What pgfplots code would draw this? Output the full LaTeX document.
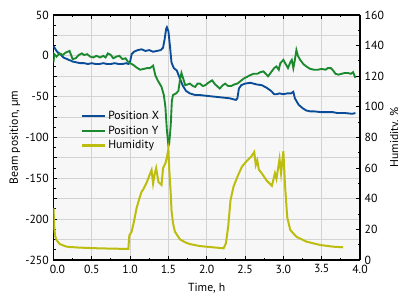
\documentclass[border=0pt]{standalone}
\usepackage{fontspec}
\setmainfont{PT Sans}
\usepackage{pgfplots}
\pgfplotsset{compat=1.18}
\definecolor{cX}{HTML}{0A4C97}
\definecolor{cY}{HTML}{1B8A2F}
\definecolor{cH}{HTML}{BDBD0F}
\definecolor{bg}{HTML}{F7F7F7}
\definecolor{gridc}{HTML}{D3D3D3}
\begin{document}
\begin{tikzpicture}
\pgfplotsset{
  every axis/.append style={
    scale only axis, width=229.9pt, height=183.75pt,
    xmin=0, xmax=4,
    font=\fontsize{8.8}{10}\selectfont,
    /pgf/number format/assume math mode=true,
    axis line style={line width=0.9pt},
    major tick length=3pt, minor tick length=1.8pt,
    every tick/.style={black, line width=0.7pt},
  }
}
\begin{axis}[
  ymin=-250, ymax=50,
  axis background/.style={fill=bg},
  xtick={0,0.5,...,4},
  xticklabels={\hspace{6pt}0.0,0.5,1.0,1.5,2.0,2.5,3.0,3.5,4.0\hspace{12pt}},
  minor x tick num=1,
  ytick={-250,-225,...,50},
  yticklabels={-250,,-200,,-150,,-100,,-50,,0,,50},
  minor y tick num=1,
  grid=major,
  major grid style={gridc, line width=0.75pt},
  xlabel={Time, h},
  ylabel={Beam position, µm},
  xlabel style={at={([yshift=-14pt]axis description cs:0.5,0)}, anchor=north},
  ylabel style={at={([xshift=-29pt]axis description cs:0,0.5)}, anchor=center},
  axis y line*=left,
  legend style={draw=none, fill=none, at={(axis description cs:0.075,0.63)}, anchor=north west,
    font=\fontsize{8.8}{10}\selectfont, row sep=-0.8pt},
  legend cell align=left,
]
\addplot[cX, line width=1.4pt] coordinates {
(0.00,12)(0.02,9)(0.04,6)(0.07,3)(0.10,1)(0.13,-2)(0.15,-3)(0.18,-4)(0.20,-5)(0.23,-6)(0.25,-7)(0.30,-8)(0.35,-9)(0.40,-9)(0.45,-10)(0.50,-9)(0.55,-10)(0.60,-10)(0.65,-9)(0.70,-10)(0.75,-10)(0.80,-9)(0.85,-10)(0.90,-10)(0.95,-9)(0.98,-10)(1.00,-7)(1.02,2)(1.05,5)(1.10,7)(1.15,8)(1.20,6)(1.25,7)(1.30,5)(1.35,6)(1.40,7)(1.43,10)(1.45,20)(1.47,33)(1.48,35)(1.50,30)(1.52,12)(1.54,-8)(1.57,-15)(1.61,-18)(1.65,-28)(1.69,-37)(1.73,-43)(1.78,-46)(1.85,-48)(1.91,-48)(2.00,-49)(2.10,-50)(2.20,-51)(2.30,-52)(2.38,-54)(2.40,-52)(2.42,-40)(2.45,-36)(2.50,-34)(2.57,-33)(2.65,-35)(2.72,-36)(2.78,-39)(2.84,-43)(2.88,-47)(2.91,-47)(2.95,-46)(3.00,-47)(3.05,-46)(3.10,-46)(3.13,-44)(3.15,-52)(3.20,-60)(3.25,-64)(3.30,-67)(3.35,-68)(3.40,-68)(3.50,-69)(3.60,-69)(3.65,-69)(3.70,-70)(3.80,-70)(3.90,-71)(3.94,-70)
};
\addlegendentry{Position X}
\addplot[cY, line width=1.4pt] coordinates {
(0.00,-8)(0.01,2)(0.04,-1)(0.08,3)(0.12,1)(0.16,4)(0.21,6)(0.25,-4)(0.29,-3)(0.33,1)(0.37,3)(0.40,1)(0.44,2)(0.48,-1)(0.52,-2)(0.56,0)(0.61,-2)(0.65,0)(0.68,-2)(0.71,3)(0.75,1)(0.78,-3)(0.82,-1)(0.86,0)(0.90,-4)(0.94,-3)(0.97,-7)(1.00,-9)(1.04,-11)(1.08,-14)(1.13,-17)(1.18,-16)(1.22,-15)(1.26,-15)(1.30,-12)(1.33,-24)(1.36,-30)(1.41,-38)(1.44,-48)(1.46,-62)(1.48,-91)(1.50,-110)(1.51,-108)(1.53,-85)(1.545,-55)(1.56,-48)(1.60,-46)(1.63,-43)(1.65,-30)(1.67,-21)(1.70,-30)(1.72,-36)(1.75,-35)(1.78,-34)(1.82,-37)(1.85,-38)(1.88,-34)(1.91,-34)(1.95,-37)(1.98,-36)(2.02,-33)(2.07,-30)(2.11,-35)(2.17,-40)(2.21,-36)(2.24,-34)(2.28,-37)(2.32,-37)(2.36,-35)(2.40,-34)(2.44,-31)(2.48,-28)(2.52,-26)(2.56,-24)(2.61,-22)(2.66,-22)(2.70,-20)(2.74,-19)(2.77,-22)(2.80,-25)(2.84,-20)(2.88,-15)(2.91,-13)(2.94,-17)(2.96,-9)(2.98,-7)(3.00,-5)(3.03,-10)(3.06,-15)(3.09,-8)(3.11,-5)(3.13,-15)(3.15,-5)(3.17,7)(3.19,0)(3.22,-5)(3.26,-10)(3.30,-13)(3.35,-16)(3.40,-17)(3.45,-17)(3.50,-16)(3.55,-17)(3.58,-15)(3.62,-15)(3.65,-18)(3.68,-22)(3.72,-23)(3.76,-22)(3.80,-21)(3.84,-21)(3.88,-22)(3.91,-20)(3.94,-27)
};
\addlegendentry{Position Y}
\addlegendimage{color=cH, line width=1.6pt}
\addlegendentry{Humidity}
\end{axis}
\begin{axis}[
  ymin=0, ymax=160,
  axis x line=none,
  axis y line*=right,
  ytick={0,20,...,160},
  minor y tick num=1,
  ylabel={Humidity, \%},
  ylabel style={at={([xshift=19pt]axis description cs:1,0.5)}, anchor=north},
]
\addplot[cH, line width=1.5pt] coordinates {
(0.00,34)(0.01,22)(0.02,16)(0.04,13)(0.08,10.5)(0.17,8.7)(0.30,8.2)(0.39,8)(0.60,7.6)(0.80,7.4)(0.977,7.2)(0.99,16)(1.02,18.5)(1.05,25)(1.085,34)(1.12,40)(1.15,44.6)(1.17,46)(1.20,49)(1.22,51)(1.25,55)(1.28,58.8)(1.30,50)(1.32,56)(1.34,60)(1.37,51)(1.41,49)(1.43,60)(1.46,63)(1.48,67)(1.50,72.5)(1.51,60)(1.53,43.7)(1.54,32.6)(1.56,24)(1.585,18.5)(1.65,13.5)(1.72,11.5)(1.78,10.4)(1.91,9.1)(2.08,8.3)(2.22,7.6)(2.25,10.9)(2.28,21.8)(2.31,39)(2.35,48)(2.41,55.5)(2.46,61)(2.52,64.5)(2.58,67.5)(2.62,70.5)(2.64,62)(2.66,65)(2.68,59)(2.72,56.5)(2.78,52)(2.85,48.5)(2.89,56.6)(2.91,53)(2.95,66)(2.97,56.6)(3.00,71)(3.02,50)(3.05,28)(3.09,19.6)(3.17,15.2)(3.30,12)(3.48,9.8)(3.65,8.7)(3.78,8.3)
};
\end{axis}
\pgfresetboundingbox
\useasboundingbox (-40.1pt,-26.25pt) rectangle (258.4pt,195pt);
\end{tikzpicture}
\end{document}
